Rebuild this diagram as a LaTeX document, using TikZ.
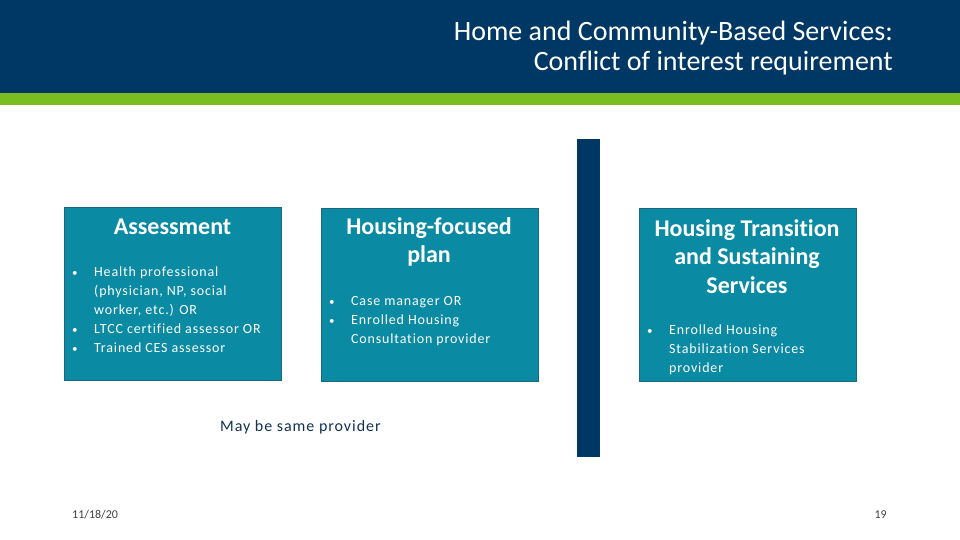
\documentclass[tikz,border=0pt]{standalone}
\usepackage{fontspec}
\setmainfont[Ligatures=NoCommon]{Carlito}
\newfontfamily\spacedfont[LetterSpace=6, Ligatures=NoCommon]{Carlito}
\usetikzlibrary{positioning}
\definecolor{hdrblue}{HTML}{003865}
\definecolor{bargreen}{HTML}{78BE21}
\definecolor{boxteal}{HTML}{0A8AA3}
\definecolor{boxedge}{HTML}{1C6682}
\definecolor{notenavy}{HTML}{123152}
\newcommand{\bul}{{\fontsize{11}{19}\selectfont•}}

\begin{document}
\begin{tikzpicture}[x=1pt, y=-1pt,
  box/.style={draw=boxedge, line width=0.8pt, fill=boxteal, rectangle, minimum width=217pt, minimum height=173pt, anchor=north west, inner sep=0pt},
  boxtitle/.style={text=white, font=\bfseries\fontsize{24}{28.5}\selectfont, align=center, inner sep=0pt},
  boxlist/.style={text=white, font=\spacedfont\fontsize{14}{19}\selectfont, anchor=base west, inner sep=0pt},
  hdrline/.style={anchor=base east, text=white, font=\fontsize{28}{30}\selectfont, inner sep=0pt},
  footer/.style={text=black!75, font=\fontsize{12}{14}\selectfont, inner sep=0pt}]
\useasboundingbox (0,0) rectangle (960,540);
% header bands
\fill[hdrblue] (0,0) rectangle (960,93);
\fill[bargreen] (0,93) rectangle (960,105);
\node[hdrline] (title) at (893,41) {Home and Community-Based Services:};
\node[hdrline] (subtitle) at (893,71) {Conflict of interest requirement};

% the three boxes
\node[box] (assess) at (64,207) {};
\node[box] (plan) at (321,208) {};
\node[box] (trans) at (639,208) {};

\node[boxtitle] (assesshd) at (172.5,227) {Assessment};
\node[boxtitle] (planhd) at (429,242) {Housing-focused\\plan};
\node[boxtitle] (transhd) at (747,256.5) {Housing Transition\\and Sustaining\\Services};

\node[boxlist] (assesslist) at (72,276.5) {\begin{tabular}[t]{@{}p{22pt}@{}l@{}}
\bul & Health professional\\
 & (physician, NP, social\\
 & worker, etc.) OR\\
\bul & LTCC certified assessor OR\\
\bul & Trained CES assessor
\end{tabular}};
\node[boxlist] (planlist) at (329,305.5) {\begin{tabular}[t]{@{}p{22pt}@{}l@{}}
\bul & Case manager OR\\
\bul & Enrolled Housing\\
 & Consultation provider
\end{tabular}};
\node[boxlist] (translist) at (647,334.5) {\begin{tabular}[t]{@{}p{22pt}@{}l@{}}
\bul & Enrolled Housing\\
 & Stabilization Services\\
 & provider
\end{tabular}};

% divider
\fill[hdrblue] (577,139) rectangle (600,457);

\node[text=notenavy, font=\spacedfont\fontsize{16}{18}\selectfont, anchor=west, inner sep=0pt] (note) at (220,427) {May be same provider};

\node[footer, anchor=west] (date) at (72,515) {11/18/20};
\node[footer, anchor=east] (page) at (887,515) {19};
\end{tikzpicture}
\end{document}
